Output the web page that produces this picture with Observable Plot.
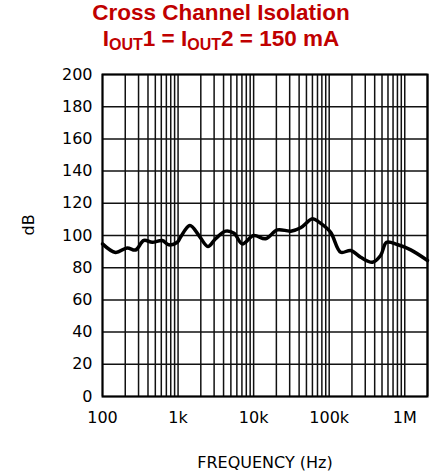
<!DOCTYPE html>
<html>
<head>
<meta charset="utf-8">
<script src="https://cdn.jsdelivr.net/npm/d3@7"></script>
<script src="https://cdn.jsdelivr.net/npm/@observablehq/plot@0.6"></script>
<style>
  html, body { margin: 0; padding: 0; background: #fff; }
  #chart { width: 430px; }
  #chart svg text { font-family: "DejaVu Sans", sans-serif !important; }
  .title {
    height: 60px;
    box-sizing: border-box;
    padding-left: 12px;
    padding-top: 0px;
    text-align: center;
    font-family: "Liberation Sans", Arial, sans-serif;
    font-weight: bold;
    font-size: 22.5px;
    color: #c00000;
    line-height: 26px;
  }
  .title sub { font-size: 16px; vertical-align: -4px; line-height: 0; }
</style>
</head>
<body>
<div id="chart">
  <div class="title">
    <div>Cross Channel Isolation</div>
    <div>I<sub>OUT</sub>1 = I<sub>OUT</sub>2 = 150 mA</div>
  </div>
</div>
<script>
// Isolation measured between the two outputs (dB) against frequency (Hz)
const freq = [100, 149, 212, 274, 352, 455, 617, 755, 977, 1079, 1435, 1888, 2484, 3140,
  4262, 5500, 7080, 10000, 14400, 20600, 31000, 41900, 60000, 73300, 104000, 142000,
  193000, 261000, 373000, 479000, 575000, 795000, 1200000, 2000000];
const isolation = [94.8, 89.5, 92.3, 91.0, 96.9, 95.8, 96.9, 94.2, 95.8, 99.0, 106.2, 100.0,
  93.2, 98.0, 102.7, 101.4, 94.8, 100.0, 98.0, 103.5, 102.7, 104.8, 110.4, 108.3, 102.1,
  89.6, 90.7, 86.5, 83.4, 87.6, 95.8, 94.4, 91.1, 84.5];

// Axis ticks and labels
const xTicks = [100, 1000, 10000, 100000, 1000000];
const xTickLabels = ["100", "1k", "10k", "100k", "1M"];
const yTicks = [0, 20, 40, 60, 80, 100, 120, 140, 160, 180, 200];
// Minor gridlines: 1..9 within each decade, plus the 2M edge
const gridX = [];
for (const decade of xTicks) {
  for (let m = 1; m <= 9; m++) gridX.push(decade * m);
}
gridX.push(2000000);

const data = freq.map((f, i) => ({f, db: isolation[i]}));

const plot = Plot.plot({
  width: 430,
  height: 415,
  marginTop: 14,
  marginBottom: 79,
  marginLeft: 102,
  marginRight: 3,
  style: {fontFamily: "DejaVu Sans, sans-serif", fontSize: "16px", color: "#000", background: "#fff"},
  x: {type: "log", domain: [100, 2000000]},
  y: {domain: [0, 200]},
  marks: [
    Plot.ruleX(gridX.filter(v => v <= 2000000), {stroke: "#111", strokeWidth: 1.5, strokeOpacity: 1}),
    Plot.ruleY(yTicks, {stroke: "#111", strokeWidth: 1.5, strokeOpacity: 1}),
    Plot.frame({stroke: "#000", strokeWidth: 2}),
    Plot.axisX(xTicks, {tickSize: 0, tickPadding: 15, tickFormat: d => xTickLabels[xTicks.indexOf(d)], label: null, fontSize: 16}),
    Plot.axisY(yTicks, {tickSize: 0, tickPadding: 10, label: null, fontSize: 16}),
    Plot.text(["FREQUENCY (Hz)"], {frameAnchor: "bottom", dy: 66, fontSize: 16, lineAnchor: "middle"}),
    Plot.text(["dB"], {frameAnchor: "left", dx: -74, rotate: -90, fontSize: 16, lineAnchor: "middle"}),
    Plot.line(data, {x: "f", y: "db", stroke: "#000", strokeWidth: 3.5, curve: "catmull-rom"})
  ]
});
document.getElementById("chart").appendChild(plot);
</script>
</body>
</html>
